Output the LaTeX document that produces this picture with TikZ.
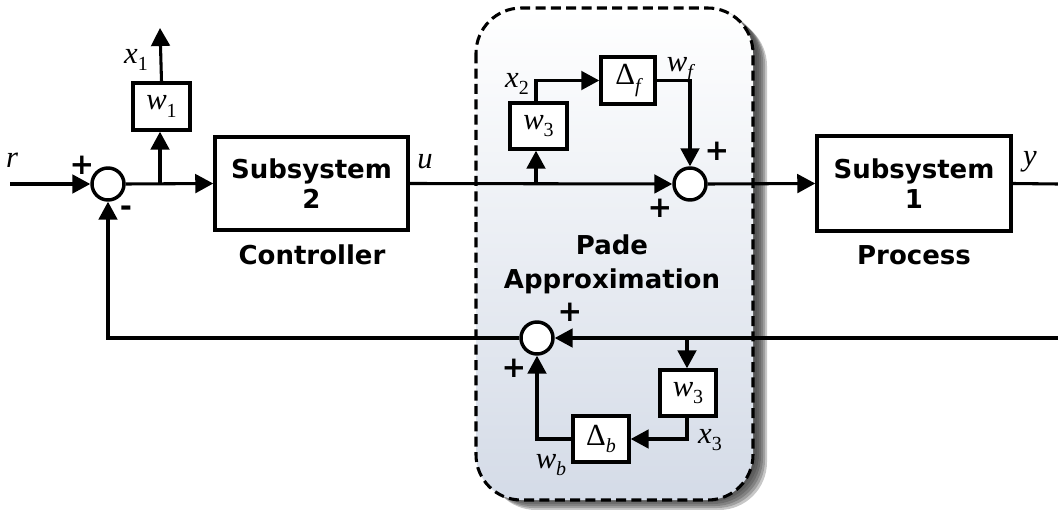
\documentclass[tikz,border=0pt]{standalone}
\usepackage{fontspec}
\setmainfont{DejaVu Sans}
\newfontfamily\tms{Liberation Serif}
\usetikzlibrary{arrows.meta}
\newcommand\mlab[2]{{\tms\itshape #1}\raisebox{-0.45ex}{\tms\fontsize{15}{15}\selectfont #2}}
\newcommand\mlabi[2]{{\tms\itshape #1}\raisebox{-0.45ex}{\tms\itshape\fontsize{15}{15}\selectfont #2}}
\begin{document}
\begin{tikzpicture}[x=0.75pt,y=-0.75pt,
  blk/.style={draw, line width=2.6pt, fill=white, inner sep=0pt, align=center, font=\fontsize{23}{23}\selectfont},
  sumc/.style={circle, draw, line width=2.6pt, fill=white, minimum size=24pt, inner sep=0pt},
  wire/.style={line width=2.3pt},
  arr/.style={wire, -{Triangle[length=13.5pt,width=14pt]}},
  bigtxt/.style={font=\bfseries\fontsize{19.5}{23}\selectfont, align=center},
  sgn/.style={font=\bfseries\fontsize{22}{22}\selectfont, inner sep=0pt},
  mtxt/.style={font=\fontsize{23}{23}\selectfont, inner sep=0pt}
]
\useasboundingbox (0,0) rectangle (1058,510);
% shadow of dashed box
\foreach \i/\op in {0/0.10,2/0.13,4/0.16,6/0.18,8/0.20,10/0.22}{
  \fill[black, opacity=\op, rounded corners=36pt] (476+\i+2,8+\i) rectangle (753+\i+4,500+\i);
}
\shade[top color=white, bottom color={rgb,255:red,212;green,219;blue,231}, rounded corners=34pt]
  (476,8) rectangle (753,500);
\draw[line width=2.3pt, dash pattern=on 7.5pt off 4pt, rounded corners=34pt] (476,8) rectangle (753,500);

% nodes
\node[sumc] (s1) at (108,184) {};
\node[blk, minimum width=42.75pt, minimum height=35.25pt] (w1) at (161.5,106.5) {\mlab{w}{1}};
\node[blk, bigtxt, minimum width=144.75pt, minimum height=69.75pt] (sub2) at (311.5,183.5) {Subsystem\\2};
\node[blk, minimum width=42.75pt, minimum height=34.5pt] (w3a) at (538.5,126) {\mlab{w}{3}};
\node[blk, minimum width=40.5pt, minimum height=35.25pt] (df) at (628,80.5) {\mlabi{\normalfont\tms\upshape Δ}{f}};
\node[sumc] (s2) at (690,184) {};
\node[blk, bigtxt, minimum width=145.5pt, minimum height=71.25pt] (sub1) at (914,183.5) {Subsystem\\1};
\node[sumc] (s3) at (537,338) {};
\node[blk, minimum width=42pt, minimum height=34.5pt] (w3b) at (688,393) {\mlab{w}{3}};
\node[blk, minimum width=42pt, minimum height=34.5pt] (db) at (601,439) {\mlabi{\normalfont\tms\upshape Δ}{b}};

\coordinate (rin) at (10,184);
\coordinate (b1) at (160,184);
\coordinate (x1end) at (160,28);
\coordinate (b2) at (536,184);
\coordinate (yout) at (1058,184);
\coordinate (fbin) at (1058,338);
\coordinate (b3) at (687,338);

% wires
\draw[arr] (rin) -- (s1.west);
\draw[arr] (s1.east) -- (sub2.west);
\draw[arr] (b1) -- (b1 |- w1.south);
\draw[arr] (w1.north) -- (x1end);
\draw[arr] (sub2.east) -- (s2.west);
\draw[arr] (b2) -- (b2 |- w3a.south);
\draw[arr] (b2 |- w3a.north) |- (df.west);
\draw[arr] (df.east) -| (s2.north);
\draw[arr] (s2.east) -- (sub1.west);
\draw[wire] (sub1.east) -- (yout);
\draw[arr] (fbin) -- (s3.east);
\draw[arr] (b3) -- (b3 |- w3b.north);
\draw[arr] (b3 |- w3b.south) |- (db.east);
\draw[arr] (db.west) -| (s3.south);
\draw[arr] (s3.west) -| (s1.south);

% labels
\node[bigtxt] (ctl) at (312,255) {Controller};
\node[bigtxt] (proc) at (914,255) {Process};
\node[bigtxt] (pade1) at (612,245) {Pade};
\node[bigtxt] (pade2) at (612,281) {Approximation};
\node[mtxt] (lr) at (12,160) {\tms\itshape r};
\node[mtxt] (lx1) at (136,60) {\mlab{x}{1}};
\node[mtxt] (lu) at (425,162) {\tms\itshape u};
\node[mtxt] (lx2) at (517,84) {\mlab{x}{2}};
\node[mtxt] (lwf) at (680,70) {\mlabi{w}{f}};
\node[mtxt] (ly) at (1030,162) {\tms\itshape y};
\node[mtxt] (lx3) at (710,440) {\mlab{x}{3}};
\node[mtxt] (lwb) at (551,465) {\mlabi{w}{b}};
\node[sgn] (p1) at (82,165) {+};
\node[sgn] (m1) at (126,211) {-};
\node[sgn] (p2) at (717,151) {+};
\node[sgn] (p3) at (660,208) {+};
\node[sgn] (p4) at (570,312) {+};
\node[sgn] (p5) at (514,368) {+};
\end{tikzpicture}
\end{document}
